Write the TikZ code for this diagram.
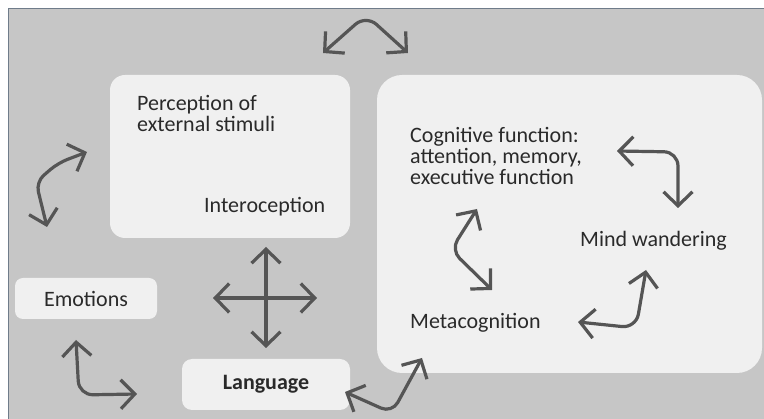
\documentclass[tikz,border=0pt]{standalone}
\usepackage{fontspec}
\setmainfont{Carlito}
\usetikzlibrary{arrows.meta,positioning}
\definecolor{bggray}{HTML}{C6C6C6}
\definecolor{boxgray}{HTML}{F0F0F0}
\definecolor{arrgray}{HTML}{555555}
\definecolor{txtgray}{HTML}{2A2A2A}
\definecolor{framegray}{HTML}{6F7C8A}
\tikzset{
    %Define standard arrow tip
    >={Straight Barb[length=14pt,width=29pt]},
    %Define style for panels
    panel/.style={
           rectangle,
           rounded corners=15pt,
           fill=boxgray,
           inner sep=0pt,
           text=txtgray,
           font=\fontsize{22}{21}\selectfont},
    %Define style for free labels
    tekst/.style={
           inner sep=0pt,
           text=txtgray,
           align=left,
           font=\fontsize{22}{21}\selectfont},
    % Define arrow style
    arr/.style={
           <->,
           draw=arrgray,
           line width=3.2pt,
           rounded corners=14pt}
}
\begin{document}
\begin{tikzpicture}[x=1pt,y=-1pt]
\useasboundingbox (0,0) rectangle (764,419);
\fill[white] (0,0) rectangle (764,419);
\fill[bggray] (8,8) rectangle (764,419);
\draw[framegray, line width=1.2pt] (8.5,419) -- (8.5,8.5) -- (764,8.5);

\node[panel, minimum width=240pt, minimum height=163pt] (1) at (230,156.5) {};
\node[panel, rounded corners=25pt, minimum width=385pt, minimum height=298pt] (2) at (569.5,224) {};
\node[panel, rounded corners=8pt, minimum width=142pt, minimum height=41pt] (3) at (86,298.5) {Emotions};
\node[panel, rounded corners=10pt, minimum width=168pt, minimum height=51pt,
  font=\fontsize{22}{21}\selectfont\bfseries] (4) at (266,384.5) {Language};

\node[tekst, anchor=north west] (5) at (137,95) {Perception of\\external stimuli};
\node[tekst, anchor=base west] (6) at (204,213) {Interoception};
\node[tekst, anchor=north west] (7) at (410,127.5) {Cognitive function:\\attention, memory,\\executive function};
\node[tekst, anchor=base west] (8) at (580,247) {Mind wandering};
\node[tekst, anchor=base west] (9) at (410,329) {Metacognition};

% arrow ends
\coordinate (a1) at (323,53);
\coordinate (a2) at (408,53);
\coordinate (b1) at (47,227);
\coordinate (b2) at (87,152);
\coordinate (c1) at (76,340);
\coordinate (c2) at (137,394);
\coordinate (d1) at (266,247);
\coordinate (d2) at (266,348);
\coordinate (d3) at (213,298);
\coordinate (d4) at (317,298);
\coordinate (e1) at (345,392);
\coordinate (e2) at (422,358);
\coordinate (f1) at (477,209);
\coordinate (f2) at (492,290);
\coordinate (g1) at (617,151);
\coordinate (g2) at (678,208);
\coordinate (h1) at (578,322);
\coordinate (h2) at (646,270);

\draw[arr] (a1) -- (366,15) -- (a2);
\draw[arr, rounded corners=10pt] (b1) -- (36,182) -- (58,163) -- (b2);
\draw[arr] (c1) -- (79,395) -- (c2);
\draw[arr] (d1) -- (d2);
\draw[arr] (d3) -- (d4);
\draw[arr, rounded corners=12pt] (e1) -- (392,413) -- (e2);
\draw[arr, rounded corners=12pt] (f1) -- (451,250) -- (f2);
\draw[arr] (g1) -- (678,152) -- (g2);
\draw[arr] (h1) -- (636,328) -- (h2);

\end{tikzpicture}
\end{document}
